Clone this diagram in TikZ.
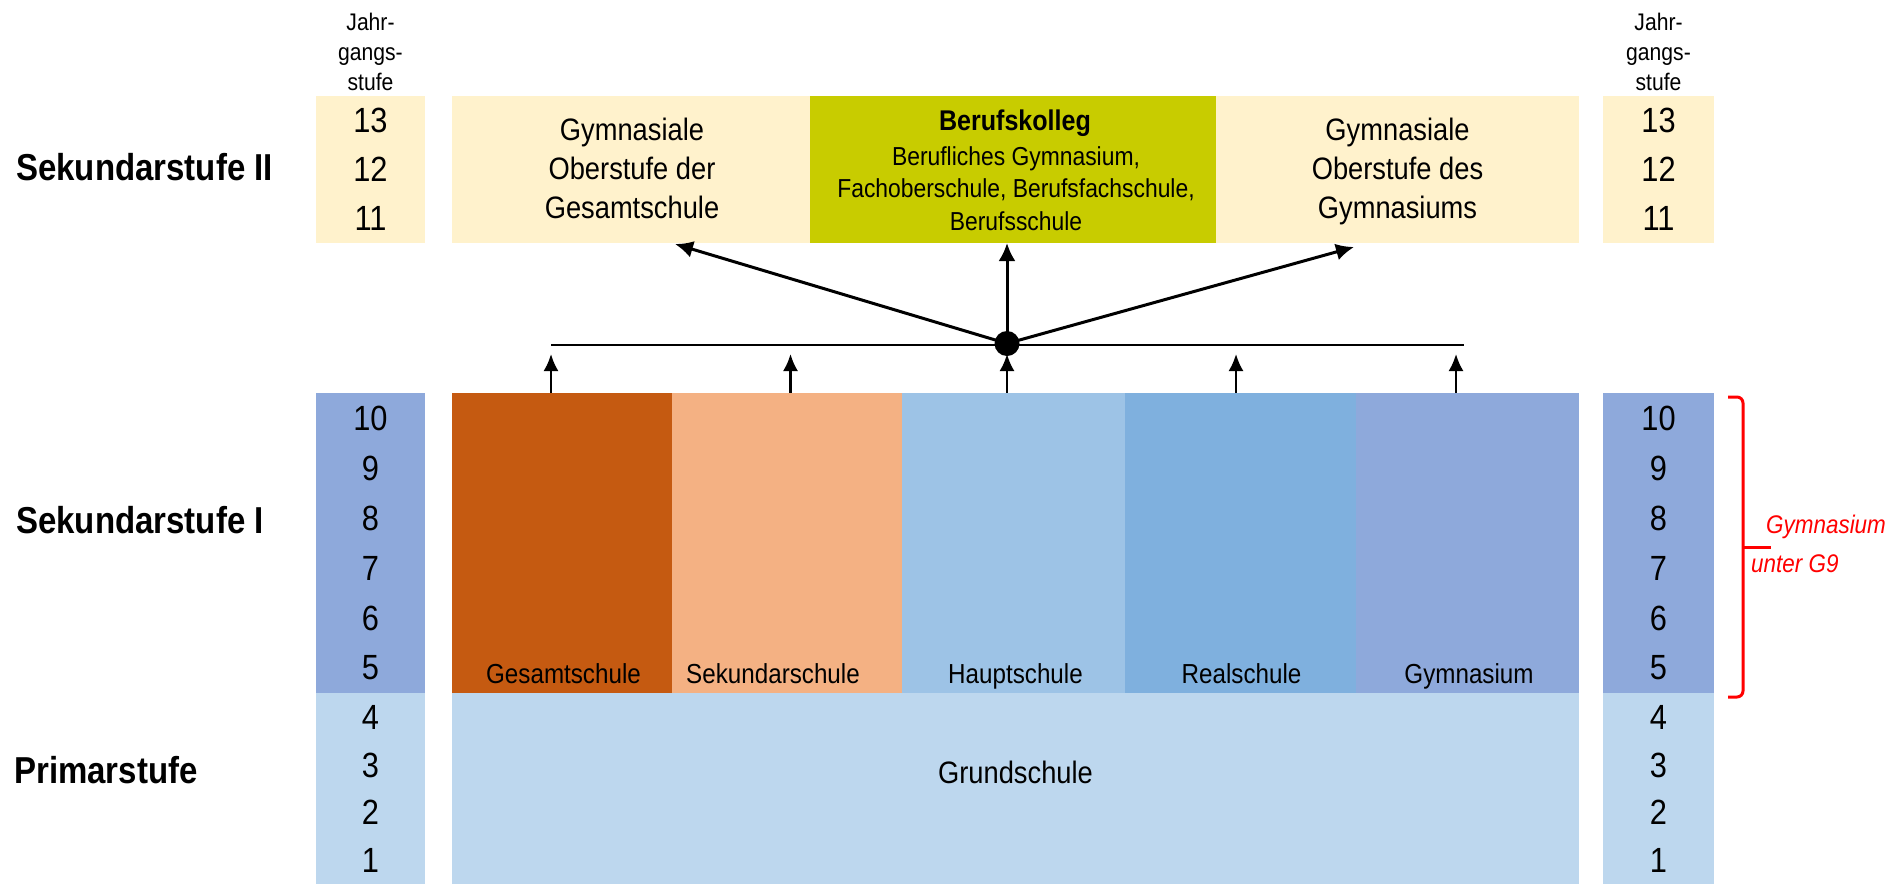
\documentclass[tikz,border=0pt]{standalone}
\usepackage{fontspec}
\setmainfont{Liberation Sans}[FakeStretch=0.88]
\usetikzlibrary{arrows.meta}
\definecolor{creme}{HTML}{FFF2CC}
\definecolor{bkolleg}{HTML}{C8CC00}
\definecolor{seki}{HTML}{8EA9DB}
\definecolor{prim}{HTML}{BDD7EE}
\definecolor{gesamt}{HTML}{C55A11}
\definecolor{sekund}{HTML}{F4B183}
\definecolor{haupt}{HTML}{9DC3E6}
\definecolor{real}{HTML}{7FB0DE}
\begin{document}
\begin{tikzpicture}[x=1pt,y=-1pt,
  cell/.style={draw=none, inner sep=0pt, outer sep=0pt, anchor=north west},
  num/.style={font=\fontsize{35}{35}\selectfont, inner sep=0pt},
  hdr/.style={font=\fontsize{24}{24}\selectfont, inner sep=0pt, anchor=base},
  lvl/.style={font=\fontsize{37.5}{40}\selectfont\bfseries, anchor=base west, inner sep=0pt},
  sectxt/.style={font=\fontsize{31}{31}\selectfont, anchor=base, inner sep=0pt},
  bktxt/.style={font=\fontsize{26}{26}\selectfont, anchor=base, inner sep=0pt},
  schooltxt/.style={font=\fontsize{27.5}{27.5}\selectfont, anchor=base, inner sep=0pt},
  redtxt/.style={font=\fontsize{25.5}{25.5}\selectfont\itshape, text=red, anchor=base west, inner sep=0pt},
  arr/.style={line width=2.3pt, -{Latex[length=17pt,width=15pt]}},
  bigarr/.style={line width=3pt, -{Latex[length=18pt,width=17pt]}},
  plain/.style={line width=2pt},
]
\useasboundingbox (0,0) rectangle (1891,884);

% grade columns
\node[cell, fill=creme, minimum width=109, minimum height=147] (lc2) at (316,96) {};
\node[cell, fill=seki, minimum width=109, minimum height=300] (lc1) at (316,392.7) {};
\node[cell, fill=prim, minimum width=109, minimum height=191.3] (lc0) at (316,692.7) {};
\node[cell, fill=creme, minimum width=111, minimum height=147] (rc2) at (1603,96) {};
\node[cell, fill=seki, minimum width=111, minimum height=300] (rc1) at (1603,392.7) {};
\node[cell, fill=prim, minimum width=111, minimum height=191.3] (rc0) at (1603,692.7) {};

% Sekundarstufe II boxes
\node[cell, fill=creme, minimum width=358, minimum height=147] (gos) at (452,96) {};
\node[cell, fill=bkolleg, minimum width=406, minimum height=147] (bk) at (810,96) {};
\node[cell, fill=creme, minimum width=363, minimum height=147] (gym2) at (1216,96) {};

% Sekundarstufe I boxes
\node[cell, fill=gesamt, minimum width=220, minimum height=300] (ges) at (452,392.7) {};
\node[cell, fill=sekund, minimum width=230, minimum height=300] (sek) at (672,392.7) {};
\node[cell, fill=haupt, minimum width=223, minimum height=300] (hau) at (902,392.7) {};
\node[cell, fill=real, minimum width=231, minimum height=300] (rea) at (1125,392.7) {};
\node[cell, fill=seki, minimum width=223, minimum height=300] (gym) at (1356,392.7) {};

% Primarstufe
\node[cell, fill=prim, minimum width=1127, minimum height=191.3] (gru) at (452,692.7) {};

% headers
\foreach \cx/\nm in {370.5/l, 1658.5/r}{
  \node[hdr] (\nm h1) at (\cx,30) {Jahr-};
  \node[hdr] (\nm h2) at (\cx,60) {gangs-};
  \node[hdr] (\nm h3) at (\cx,90) {stufe};
}

% grade numbers
\foreach \cx/\nm in {370.5/l, 1658.5/r}{
  \node[num] (\nm n13) at (\cx,120.5) {13};
  \node[num] (\nm n12) at (\cx,169.5) {12};
  \node[num] (\nm n11) at (\cx,218.5) {11};
  \node[num] (\nm n10) at (\cx,418) {10};
  \node[num] (\nm n9) at (\cx,468) {9};
  \node[num] (\nm n8) at (\cx,518) {8};
  \node[num] (\nm n7) at (\cx,568) {7};
  \node[num] (\nm n6) at (\cx,618) {6};
  \node[num] (\nm n5) at (\cx,668) {5};
  \node[num] (\nm n4) at (\cx,717) {4};
  \node[num] (\nm n3) at (\cx,765) {3};
  \node[num] (\nm n2) at (\cx,812.5) {2};
  \node[num] (\nm n1) at (\cx,860) {1};
}

% level labels
\node[lvl] (l2) at (16,180) {Sekundarstufe II};
\node[lvl] (l1) at (16,533) {Sekundarstufe I};
\node[lvl] (l0) at (14,783) {Primarstufe};

% Sek II texts
\node[sectxt] (gosa) at (632,140) {Gymnasiale};
\node[sectxt] (gosb) at (632,179) {Oberstufe der};
\node[sectxt] (gosc) at (632,218) {Gesamtschule};
\node[sectxt] (gyma) at (1397.5,140) {Gymnasiale};
\node[sectxt] (gymb) at (1397.5,179) {Oberstufe des};
\node[sectxt] (gymc) at (1397.5,218) {Gymnasiums};
\node[bktxt, font=\fontsize{28.5}{28.5}\selectfont\bfseries] (bka) at (1015,130) {Berufskolleg};
\node[bktxt] (bkb) at (1016,165) {Berufliches Gymnasium,};
\node[bktxt] (bkc) at (1016,197) {Fachoberschule, Berufsfachschule,};
\node[bktxt] (bkd) at (1016,230) {Berufsschule};

% Sek I labels
\node[schooltxt] (gest) at (563.5,683) {Gesamtschule};
\node[schooltxt] (sekt) at (773,683) {Sekundarschule};
\node[schooltxt] (haut) at (1015.5,683) {Hauptschule};
\node[schooltxt] (reat) at (1241.5,683) {Realschule};
\node[schooltxt] (gymt) at (1469,683) {Gymnasium};
\node[font=\fontsize{31}{31}\selectfont, anchor=base, inner sep=0pt] (grut) at (1015.5,783) {Grundschule};

% connectors
\coordinate (hl) at (551,345);
\coordinate (hr) at (1464,345);
\draw[plain] (hl) -- (hr);
\coordinate (t1) at (551,354);
\coordinate (t2) at (790.5,354);
\coordinate (t3) at (1007,354);
\coordinate (t4) at (1236,354);
\coordinate (t5) at (1456,354);
\draw[arr] (t1 |- ges.north) -- (t1);
\draw[arr] (t2 |- sek.north) -- (t2);
\draw[arr] (t3 |- hau.north) -- (t3);
\draw[arr] (t4 |- rea.north) -- (t4);
\draw[arr] (t5 |- gym.north) -- (t5);

\node[circle, fill=black, minimum size=25, inner sep=0pt] (hub) at (1007,343.5) {};
\coordinate (tl) at (675,244);
\coordinate (tr) at (1354,247);
\draw[bigarr] (hub.center) -- (tl);
\draw[bigarr] (hub.center) -- (hub.center |- bk.south);
\draw[bigarr] (hub.center) -- (tr);

% red bracket
\coordinate (bt) at (1728,397);
\coordinate (bb) at (1728,697);
\coordinate (bm) at (1743,547);
\coordinate (bx) at (1771,547);
\draw[red, line width=3pt, rounded corners=6pt] (bt) -- (bt -| bm) -- (bb -| bm) -- (bb);
\draw[red, line width=3pt] (bm) -- (bx);
\node[redtxt] (rt1) at (1766,533) {Gymnasium};
\node[redtxt] (rt2) at (1751,572) {unter G9};
\end{tikzpicture}
\end{document}
